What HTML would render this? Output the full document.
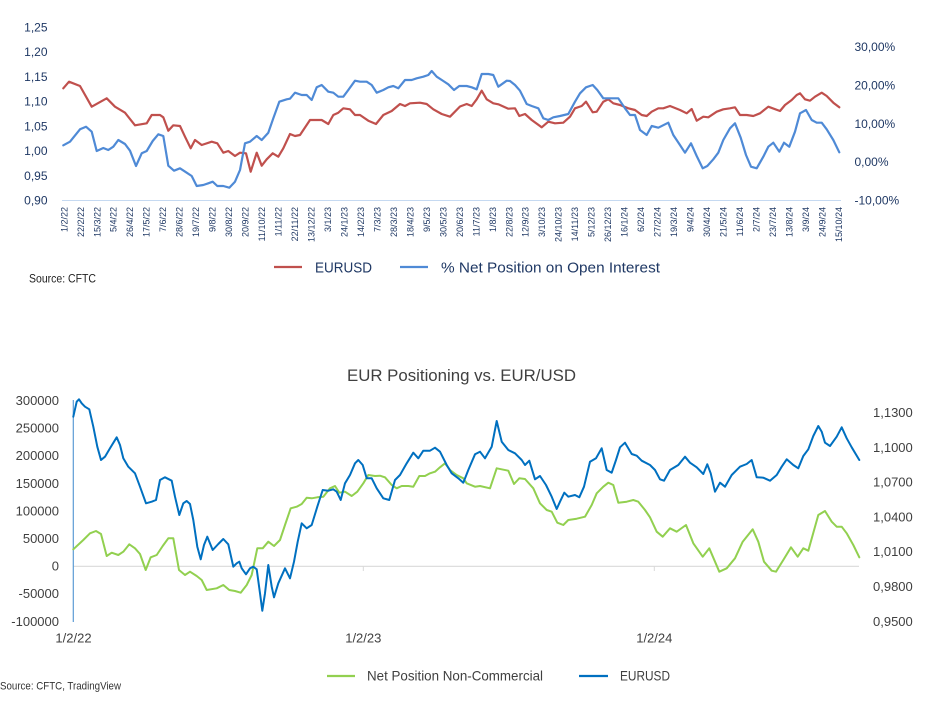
<!DOCTYPE html>
<html><head><meta charset="utf-8"><style>
html,body{margin:0;padding:0;background:#fff;}
svg{display:block;}
text{font-family:"Liberation Sans",sans-serif;}
</style></head><body>
<svg width="936" height="711" viewBox="0 0 936 711" xmlns="http://www.w3.org/2000/svg">
<rect width="936" height="711" fill="#fff"/>
<!-- TOP CHART -->
<line x1="62" y1="200.5" x2="841" y2="200.5" stroke="#c5d9f1" stroke-width="1"/>
<g font-size="12" fill="#1f3864" text-anchor="end">
<text x="47.5" y="31.5">1,25</text>
<text x="47.5" y="56.2">1,20</text>
<text x="47.5" y="80.9">1,15</text>
<text x="47.5" y="105.6">1,10</text>
<text x="47.5" y="130.4">1,05</text>
<text x="47.5" y="155.1">1,00</text>
<text x="47.5" y="179.8">0,95</text>
<text x="47.5" y="204.5">0,90</text>
</g>
<g font-size="12" fill="#1f3864">
<text x="854.5" y="51.2">30,00%</text>
<text x="854.5" y="89.5">20,00%</text>
<text x="854.5" y="127.8">10,00%</text>
<text x="854.5" y="166.2">0,00%</text>
<text x="854.5" y="204.5">-10,00%</text>
</g>
<g font-size="9" fill="#1f3864" text-anchor="end">
<text transform="translate(67.3,207) rotate(-90)">1/2/22</text>
<text transform="translate(83.8,207) rotate(-90)">22/2/22</text>
<text transform="translate(100.3,207) rotate(-90)">15/3/22</text>
<text transform="translate(116.7,207) rotate(-90)">5/4/22</text>
<text transform="translate(133.2,207) rotate(-90)">26/4/22</text>
<text transform="translate(149.7,207) rotate(-90)">17/5/22</text>
<text transform="translate(166.2,207) rotate(-90)">7/6/22</text>
<text transform="translate(182.7,207) rotate(-90)">28/6/22</text>
<text transform="translate(199.1,207) rotate(-90)">19/7/22</text>
<text transform="translate(215.6,207) rotate(-90)">9/8/22</text>
<text transform="translate(232.1,207) rotate(-90)">30/8/22</text>
<text transform="translate(248.6,207) rotate(-90)">20/9/22</text>
<text transform="translate(265.1,207) rotate(-90)">11/10/22</text>
<text transform="translate(281.5,207) rotate(-90)">1/11/22</text>
<text transform="translate(298.0,207) rotate(-90)">22/11/22</text>
<text transform="translate(314.5,207) rotate(-90)">13/12/22</text>
<text transform="translate(331.0,207) rotate(-90)">3/1/23</text>
<text transform="translate(347.5,207) rotate(-90)">24/1/23</text>
<text transform="translate(363.9,207) rotate(-90)">14/2/23</text>
<text transform="translate(380.4,207) rotate(-90)">7/3/23</text>
<text transform="translate(396.9,207) rotate(-90)">28/3/23</text>
<text transform="translate(413.4,207) rotate(-90)">18/4/23</text>
<text transform="translate(429.9,207) rotate(-90)">9/5/23</text>
<text transform="translate(446.3,207) rotate(-90)">30/5/23</text>
<text transform="translate(462.8,207) rotate(-90)">20/6/23</text>
<text transform="translate(479.3,207) rotate(-90)">11/7/23</text>
<text transform="translate(495.8,207) rotate(-90)">1/8/23</text>
<text transform="translate(512.3,207) rotate(-90)">22/8/23</text>
<text transform="translate(528.7,207) rotate(-90)">12/9/23</text>
<text transform="translate(545.2,207) rotate(-90)">3/10/23</text>
<text transform="translate(561.7,207) rotate(-90)">24/10/23</text>
<text transform="translate(578.2,207) rotate(-90)">14/11/23</text>
<text transform="translate(594.7,207) rotate(-90)">5/12/23</text>
<text transform="translate(611.1,207) rotate(-90)">26/12/23</text>
<text transform="translate(627.6,207) rotate(-90)">16/1/24</text>
<text transform="translate(644.1,207) rotate(-90)">6/2/24</text>
<text transform="translate(660.6,207) rotate(-90)">27/2/24</text>
<text transform="translate(677.1,207) rotate(-90)">19/3/24</text>
<text transform="translate(693.5,207) rotate(-90)">9/4/24</text>
<text transform="translate(710.0,207) rotate(-90)">30/4/24</text>
<text transform="translate(726.5,207) rotate(-90)">21/5/24</text>
<text transform="translate(743.0,207) rotate(-90)">11/6/24</text>
<text transform="translate(759.5,207) rotate(-90)">2/7/24</text>
<text transform="translate(775.9,207) rotate(-90)">23/7/24</text>
<text transform="translate(792.4,207) rotate(-90)">13/8/24</text>
<text transform="translate(808.9,207) rotate(-90)">3/9/24</text>
<text transform="translate(825.4,207) rotate(-90)">24/9/24</text>
<text transform="translate(841.9,207) rotate(-90)">15/10/24</text>
</g>
<polyline fill="none" stroke="#c0504d" stroke-width="2.2" stroke-linejoin="round" stroke-linecap="round" points="63.3,88.3 69,81.7 80,86 91.7,106.7 106.7,98.3 115,106.7 125,112.7 135,125.3 146.7,123.3 151.7,115 160,115 163.3,117.3 168.3,130.7 173.3,125.3 180,126 185,136.7 190.7,148.3 195,140 201.7,145 211.7,141.7 217.3,143.3 223.3,152.7 228.3,151 235,156 240,152.7 246,153.3 250.7,171.7 256.7,152.7 261.7,165.7 266.7,159.3 272.7,153.3 278.3,156.7 283.3,148.3 290,134 295,136 300,135 310,120 321.7,120 328.3,124 333.3,115 338.3,112.7 343.3,108.3 350,109.3 355,115 360,115 368.3,120.7 376,124 383.3,115 391.7,111 400,104 405,106 410,103.3 420,102.7 426.7,104 433.3,109.3 441.7,114 450,116.7 460,106.5 466.7,104 471.7,106 476.7,99.3 481.7,90.7 486.7,99.3 493.3,103.3 498.3,104.3 508.3,108.7 515,108.3 519.3,116 525,114 531.7,120 541.7,127.3 548.3,121.7 555,123.3 563.3,122.7 570,116.7 575,108.3 581.7,106 586,101.7 592.7,112.3 596.7,111.7 603.3,101.7 608.3,99.3 613.3,103.3 620,105 628.3,108.3 635,110 641.7,115 646.7,116 651.7,111.7 658.3,108.3 663.3,108.3 670,106 680,110 686.7,113.3 691.7,109 696.7,120.7 703.3,116.7 708.3,117.3 716.7,111.7 723.3,109.3 730,108.3 735,107.3 740,115 746.7,115 753.3,116 760,113.3 768.3,106.7 780,111 785,105 791.7,100 796.7,95 800,93.3 805,99.3 810,100.7 815,96.7 821.7,92.7 826.7,96 833.3,102.7 839.3,107.3"/>
<polyline fill="none" stroke="#4f8ad6" stroke-width="2.2" stroke-linejoin="round" stroke-linecap="round" points="63.3,145.3 70,141.7 80,129.3 86,126.7 91.7,131.7 96.7,151 103.3,148 108.3,150 113.3,146.7 118.3,140 125,144 130,150.7 136,166 141.7,153.3 146.7,151 152.7,141 158.3,134.3 163.3,136 168.3,165.7 174,170.7 180,168.3 186.7,172.7 191.7,176 196.7,186 203.3,185 208.3,183.3 212.7,181.7 217.3,186 223.3,186 229.3,187.7 235,181.7 240,170 245,143.3 250,141.7 256.7,136 261.7,140 268.3,132.7 273.3,118.3 279.3,101.7 286.7,99.3 290,98.7 295,92.7 301.7,95 306.7,95 311.7,100 316.7,87.3 321.7,85 328.3,91.7 333.3,92.7 338.3,96.7 343.3,96.7 348.3,90 355,80.7 360,81.7 366.7,81.7 371.7,85 376.7,92.7 383.3,90 388.3,87.3 393.3,86 398.3,88.3 405,80 411.7,80 416.7,78.3 423.3,76.7 428.3,75 431.7,71 436.7,76.7 443.3,81 448.3,84.3 454,90 459.3,86 466.7,86 471.7,87.3 476.7,89.3 481.7,74 488.3,74 493.3,75 498.3,86.7 506.7,80.7 510,81 515,85 520,90.7 526.7,104 531.7,106 538.3,108.3 543.3,118.3 548.3,120 553.3,117.3 560,116 568.3,114 575,101.7 580,93.3 586,87.3 592.7,85 597.3,90 603.3,98.3 608.3,98.3 618.3,98.3 625,108.3 630,115 635,115 640,130 646.7,135 651.7,126 658.3,127.7 668.3,122.7 673.3,135 679.3,144 685,152.7 691,143.3 696.7,156 702.7,168.3 707.3,166 713.3,159.3 718.3,152.7 723.3,140 730,128.3 735,123.3 740.7,137.7 746,155 751,166.7 756.7,168.3 763.3,156.7 768.3,146.7 773.3,142.7 779.3,151.7 784,142.7 789.3,146.7 795,131.7 800,113.3 806,110 811.7,120 816.7,122.7 821.7,122.7 826.7,129.3 833.3,140 839.3,152.3"/>
<!-- top legend -->
<line x1="274" y1="267" x2="302" y2="267" stroke="#c0504d" stroke-width="2.2"/>
<text x="315" y="272.5" font-size="15" fill="#1f3864" textLength="57" lengthAdjust="spacingAndGlyphs">EURUSD</text>
<line x1="400" y1="267" x2="428" y2="267" stroke="#4f8ad6" stroke-width="2.2"/>
<text x="441" y="272.5" font-size="15" fill="#1f3864" textLength="219" lengthAdjust="spacingAndGlyphs">% Net Position on Open Interest</text>
<text x="29" y="282.5" font-size="11.5" fill="#222" textLength="67" lengthAdjust="spacingAndGlyphs">Source: CFTC</text>

<!-- BOTTOM CHART -->
<text x="461.5" y="381" font-size="17" fill="#404040" text-anchor="middle" textLength="229" lengthAdjust="spacingAndGlyphs">EUR Positioning vs. EUR/USD</text>
<line x1="73" y1="566.3" x2="859" y2="566.3" stroke="#d9d9d9" stroke-width="1.2"/>
<line x1="363.3" y1="566" x2="363.3" y2="571" stroke="#d9d9d9" stroke-width="1"/>
<line x1="654.3" y1="566" x2="654.3" y2="571" stroke="#d9d9d9" stroke-width="1"/>
<line x1="73.3" y1="400" x2="73.3" y2="622" stroke="#5b9bd5" stroke-width="1.2"/>
<g font-size="13" fill="#404040" text-anchor="end">
<text x="59" y="405">300000</text>
<text x="59" y="432.6">250000</text>
<text x="59" y="460.2">200000</text>
<text x="59" y="487.8">150000</text>
<text x="59" y="515.4">100000</text>
<text x="59" y="543">50000</text>
<text x="59" y="570.6">0</text>
<text x="59" y="598.2">-50000</text>
<text x="59" y="625.8">-100000</text>
</g>
<g font-size="13" fill="#404040">
<text x="873" y="417">1,1300</text>
<text x="873" y="451.8">1,1000</text>
<text x="873" y="486.6">1,0700</text>
<text x="873" y="521.4">1,0400</text>
<text x="873" y="556.2">1,0100</text>
<text x="873" y="591">0,9800</text>
<text x="873" y="625.8">0,9500</text>
</g>
<g font-size="13" fill="#404040" text-anchor="middle">
<text x="73.5" y="642.5">1/2/22</text>
<text x="363.3" y="642.5">1/2/23</text>
<text x="654.3" y="642.5">1/2/24</text>
</g>
<polyline fill="none" stroke="#92d050" stroke-width="2" stroke-linejoin="round" stroke-linecap="round" points="73.3,549.3 83.3,540 90,533.3 96,531 101,534 106.7,556 111.7,552.7 118.3,555 123.3,551.7 129.3,544.3 135,548.3 140,554 145.7,570 150.7,557.3 156.7,555 162.7,546 168.3,538.3 173.3,538.3 179,570 185,575 190,571.7 196.7,576 201.7,580 206.7,590 216.7,588.3 223.3,585 229.3,590 235,591 240.7,592.7 246.7,585 251.7,575 257.3,548.3 262.7,548.3 268.3,541.7 274,546 280,540 285,525 290.7,508.3 296.7,506.7 301.7,504 306.7,497.7 311.7,498.3 317.3,497.3 323.3,496.7 330,488.3 335,486 339.3,492.7 345,491.7 351.7,496 357.3,491.7 363.3,483.3 368.3,475 375,476 380,475.7 385,477.3 391.7,485 396.7,488.3 401.7,486 408.3,486 413.3,486.7 419.3,476 425,476 430,473.3 435,471.7 440,467.3 445,463.3 450,470 456.7,475 463.3,478.3 466.7,483.3 475,486.7 480,486 490,488.3 496.7,468.3 508.3,470.7 514,484 519.3,478.3 525,479 533.3,488.3 540,503.3 546.7,510 551.7,511.7 557.3,522.7 563.3,525 568.3,520 576.7,518.7 585,516.7 591.7,505 596.7,493.3 603.3,486.7 608.3,482.7 613.3,485 618.3,502.7 626.7,501.7 633.3,500 638.3,501.7 645,510 650,517.3 656.7,531.7 662.7,536.7 670,528.3 676.7,531.7 686,525 693.3,543.3 702.7,556.7 709.3,548.3 719.3,571.7 726.7,568.3 735,558.3 742.7,541.7 752.7,529.3 758.3,541.7 764,561.7 771.7,570.7 776,571.7 783.3,560 791,547.3 797.7,556.7 803.3,548.3 808.3,550.7 818.3,515 825,511 831.7,521.7 836.7,526.7 841.7,526.7 846.7,533.3 853.3,545 859.3,557.3"/>
<polyline fill="none" stroke="#0070c0" stroke-width="2" stroke-linejoin="round" stroke-linecap="round" points="73.3,416.7 76.7,401.7 79,399.3 81.7,403.3 85,406.7 89.3,409.3 93.3,426.7 97.3,446.7 101,460 105,456.7 110,448.3 116.7,437.3 120,445 123.3,458.3 128.3,466.7 135,473.3 140,486.7 146,503.3 151.7,501.7 156,500 160,480 165,477.3 171.7,480.7 175,496.7 179.3,515 183.3,503.3 186.7,501 190,504 193.3,520 197.3,546.7 200.7,559.3 204,545 207.3,536.7 212.7,550 218.3,544 223.3,539 228.3,544.3 233.3,566.7 236.7,563.3 239.3,561.7 241.7,568.3 246,574.3 250,568.3 253.3,566.7 256.7,569.3 260,593.3 262.3,610.7 265,593.3 268.3,565 271.7,586.7 274,597.3 278.3,583.3 285,568.3 290,578.3 294,561.7 297.7,541.7 301.7,523.3 306.7,528.3 311.7,525 317.3,506.7 322.7,490 328.3,490.7 333.3,489.3 336.7,491.7 340.7,500 345,483.3 350,475 355,463.3 358.3,460 362.7,465 366.7,478.3 371.7,478.3 376.7,488.3 383.3,498.3 389.3,500 395,480 400,475 406.7,463.3 413.3,452.7 418.3,458.3 423.3,450.7 430,450.7 435,447.7 440,451.7 446.7,465 451.7,473.3 458.3,478.3 463.3,482.7 468.3,470 475,454.3 480,451.7 485,458.3 491.7,446.7 496.7,421 501.7,441.7 508.3,450 515,453.3 521.7,460 525,465 529.3,460.7 535,479.3 540,476 546,485 551.7,496.7 556.7,509 560,501.7 564.3,492.7 568.3,496.7 575,495 579.3,497.3 584,486.7 590,461.7 596,458.3 601.7,448.3 606.7,470 611.7,472.7 616,460 620,447.3 625,442.7 631.7,454 636.7,455.7 641.7,460.7 650,465 655,470 660,479.3 664,480.7 670,470 678.3,465 685,456.7 690,462.7 696.7,467.3 703.3,474 707.3,464.3 710.7,473.3 715,491.7 720,482.7 725,486.7 731.7,475 740,466.7 746.7,464 751.7,460 756.7,477.3 763.3,477.7 770,480.7 776.7,475 781.7,466.7 786.7,459.3 793.3,465 798.3,468.3 803.3,456 808.3,449.3 813.3,436 818.3,426 821.7,431.7 825,442.7 830,446 836.7,436.7 841.7,427.3 846.7,438.3 851.7,447.3 859.3,460"/>
<!-- bottom legend -->
<line x1="327" y1="676" x2="355" y2="676" stroke="#92d050" stroke-width="2.2"/>
<text x="367" y="680.7" font-size="14" fill="#404040" textLength="176" lengthAdjust="spacingAndGlyphs">Net Position Non-Commercial</text>
<line x1="579" y1="676" x2="608" y2="676" stroke="#0070c0" stroke-width="2.2"/>
<text x="620" y="680.7" font-size="14" fill="#404040" textLength="50" lengthAdjust="spacingAndGlyphs">EURUSD</text>
<text x="0" y="689.5" font-size="11" fill="#333" textLength="121" lengthAdjust="spacingAndGlyphs">Source: CFTC, TradingView</text>
</svg>
</body></html>
